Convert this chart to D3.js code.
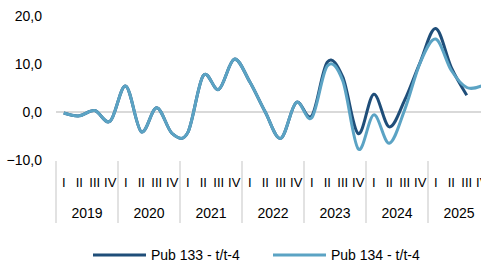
<!DOCTYPE html>
<html><head><meta charset="utf-8">
<script src="https://cdn.jsdelivr.net/npm/d3@7"></script>
<style>html,body{margin:0;padding:0;background:#fff;}svg{display:block;font-family:"Liberation Sans",Arial,sans-serif;}</style>
</head><body>
<svg id="c" width="481" height="262"></svg>
<script>
const years = ["2019","2020","2021","2022","2023","2024","2025"];
const quarterLabels = ["I","II","III","IV"];
const seriesNames = ["Pub 133 - t/t-4","Pub 134 - t/t-4"];
const pub133 = [-0.2,-0.8,0.3,-1.9,5.4,-4.1,0.9,-4.5,-4.3,7.6,4.7,11.0,6.3,0.0,-5.5,2.0,-0.8,10.4,7.3,-4.5,3.7,-3.1,2.5,10.4,17.4,9.3,3.5,null];
const pub134 = [-0.2,-0.8,0.3,-1.9,5.4,-4.1,0.9,-4.5,-4.3,7.6,4.7,11.0,6.3,0.0,-5.5,2.0,-1.2,9.6,6.5,-7.7,-0.6,-6.5,0.5,10.3,15.2,8.7,5.1,5.5];
const yTicks = [-10,0,10,20];

const colors = ["#1f4e79","#5ba3c4"];
const svg = d3.select("#c");
const periods = [];
years.forEach(y => quarterLabels.forEach(q => periods.push(y+"-"+q)));

const x = d3.scaleBand().domain(periods).range([56, 56 + periods.length*15.5]);
const y = d3.scaleLinear().domain([-10,20]).range([160,16]);
const cx = i => x(periods[i]) + x.bandwidth()/2;

// y labels
svg.append("g").selectAll("text").data(yTicks).join("text")
  .attr("x",42).attr("y",d=>y(d)).attr("dy","0.35em").attr("text-anchor","end")
  .attr("font-size",14).attr("fill","#000")
  .text(d=>d3.format(".1f")(d).replace(".",","));

// zero line
svg.append("line").attr("x1",56).attr("x2",481).attr("y1",y(0)).attr("y2",y(0))
  .attr("stroke","#d9d9d9").attr("stroke-width",2);

// year separators
const yearX = years.map((yr,i)=>x(yr+"-I"));
yearX.push(x(periods[periods.length-1])+x.bandwidth());
svg.append("g").selectAll("line").data(yearX).join("line")
  .attr("x1",d=>d).attr("x2",d=>d).attr("y1",161).attr("y2",223)
  .attr("stroke","#d9d9d9").attr("stroke-width",1.5);

// quarter labels
svg.append("g").selectAll("text").data(periods).join("text")
  .attr("x",(d,i)=>cx(i)).attr("y",187).attr("text-anchor","middle")
  .attr("font-size",13).attr("fill","#000")
  .text(d=>d.split("-")[1]);

// year labels
svg.append("g").selectAll("text").data(years).join("text")
  .attr("x",d=>x(d+"-I")+2*x.bandwidth()).attr("y",218).attr("text-anchor","middle")
  .attr("font-size",14).attr("fill","#000").text(d=>d);

// lines
const line = d3.line().defined(d=>d.v!=null).x(d=>cx(d.i)).y(d=>y(d.v)).curve(d3.curveCardinal.tension(0));
[pub133,pub134].forEach((s,k)=>{
  svg.append("path").datum(s.map((v,i)=>({i,v})))
    .attr("d",line).attr("fill","none").attr("stroke",colors[k]).attr("stroke-width",3)
    .attr("stroke-linejoin","round");
});

// legend
const legX = [93,273];
seriesNames.forEach((n,k)=>{
  svg.append("line").attr("x1",legX[k]).attr("x2",legX[k]+53).attr("y1",255).attr("y2",255)
    .attr("stroke",colors[k]).attr("stroke-width",3);
  svg.append("text").attr("x",legX[k]+58).attr("y",255).attr("dy","0.35em")
    .attr("font-size",14).attr("fill","#000").text(n);
});
</script>
</body></html>
